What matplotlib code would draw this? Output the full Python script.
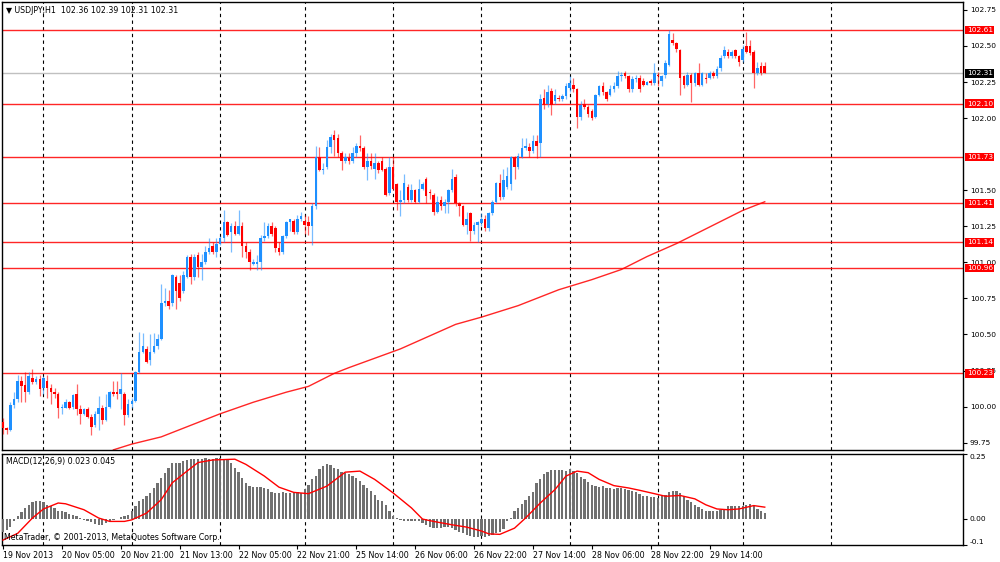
import matplotlib
matplotlib.use("Agg")
import matplotlib.pyplot as plt
from matplotlib.transforms import blended_transform_factory

# USDJPY H1 bars (19 Nov 2013 13:00 -> 29 Nov 2013)
opens = [99.89, 99.85, 99.84, 100.01, 100.05, 100.18, 100.15, 100.10, 100.20, 100.17,
         100.19, 100.13, 100.18, 100.13, 100.10, 100.09, 99.99, 99.99, 100.03, 100.00,
         100.09, 99.98, 99.95, 99.98, 99.93, 99.87, 99.95, 99.99, 99.91, 100.00,
         100.10, 100.10, 100.09, 100.09, 99.94, 100.02, 100.04, 100.24, 100.38, 100.40,
         100.32, 100.38, 100.42, 100.47, 100.72, 100.73, 100.72, 100.90, 100.86, 100.80,
         100.90, 101.04, 100.90, 101.05, 100.97, 101.00, 101.07, 101.11, 101.07, 101.13,
         101.17, 101.28, 101.21, 101.25, 101.20, 101.25, 101.11, 101.07, 100.99, 100.99,
         101.00, 101.17, 101.18, 101.25, 101.24, 101.10, 101.07, 101.18, 101.28, 101.29,
         101.21, 101.30, 101.29, 101.28, 101.25, 101.39, 101.73, 101.64, 101.66, 101.80,
         101.88, 101.86, 101.76, 101.70, 101.72, 101.70, 101.76, 101.81, 101.79, 101.66,
         101.70, 101.65, 101.69, 101.70, 101.65, 101.48, 101.66, 101.54, 101.42, 101.43,
         101.52, 101.43, 101.50, 101.42, 101.51, 101.58, 101.49, 101.47, 101.35, 101.43,
         101.39, 101.42, 101.50, 101.59, 101.41, 101.39, 101.26, 101.34, 101.22, 101.26,
         101.27, 101.30, 101.24, 101.34, 101.42, 101.55, 101.45, 101.52, 101.54, 101.73,
         101.66, 101.73, 101.79, 101.80, 101.77, 101.84, 101.83, 102.14, 102.10, 102.19,
         102.12, 102.14, 102.13, 102.15, 102.21, 102.23, 102.20, 102.01, 102.10, 102.08,
         102.05, 102.01, 102.16, 102.22, 102.18, 102.16, 102.20, 102.22, 102.29, 102.31,
         102.29, 102.20, 102.27, 102.28, 102.26, 102.23, 102.26, 102.24, 102.30, 102.26,
         102.30, 102.37, 102.54, 102.52, 102.47, 102.29, 102.23, 102.30, 102.24, 102.31,
         102.23, 102.28, 102.28, 102.31, 102.29, 102.35, 102.43, 102.46, 102.43, 102.47,
         102.43, 102.40, 102.50, 102.50, 102.46, 102.31, 102.36, 102.36]
closes = [99.85, 99.84, 100.01, 100.05, 100.18, 100.14, 100.10, 100.21, 100.17, 100.19,
          100.12, 100.20, 100.13, 100.10, 100.09, 99.99, 100.00, 100.03, 99.99, 100.08,
          99.98, 99.95, 99.98, 99.93, 99.86, 99.95, 99.99, 99.91, 100.00, 100.10,
          100.09, 100.09, 100.12, 99.94, 100.02, 100.04, 100.24, 100.38, 100.42, 100.31,
          100.38, 100.42, 100.47, 100.72, 100.73, 100.70, 100.91, 100.80, 100.75, 100.91,
          101.04, 100.90, 101.04, 100.97, 101.00, 101.07, 101.10, 101.07, 101.13, 101.17,
          101.28, 101.19, 101.25, 101.20, 101.25, 101.11, 101.07, 101.00, 101.00, 101.00,
          101.17, 101.18, 101.25, 101.20, 101.10, 101.07, 101.18, 101.28, 101.30, 101.21,
          101.30, 101.32, 101.26, 101.25, 101.39, 101.73, 101.64, 101.65, 101.80, 101.87,
          101.85, 101.76, 101.70, 101.73, 101.70, 101.76, 101.81, 101.79, 101.66, 101.70,
          101.67, 101.69, 101.64, 101.64, 101.47, 101.66, 101.51, 101.42, 101.43, 101.55,
          101.43, 101.50, 101.42, 101.51, 101.54, 101.46, 101.48, 101.35, 101.42, 101.39,
          101.42, 101.50, 101.58, 101.41, 101.39, 101.26, 101.30, 101.22, 101.26, 101.28,
          101.30, 101.24, 101.34, 101.42, 101.55, 101.45, 101.57, 101.60, 101.73, 101.66,
          101.74, 101.79, 101.81, 101.77, 101.84, 101.81, 102.13, 102.09, 102.18, 102.09,
          102.16, 102.13, 102.15, 102.22, 102.24, 102.20, 102.01, 102.09, 102.08, 102.03,
          102.00, 102.16, 102.22, 102.18, 102.13, 102.20, 102.22, 102.29, 102.30, 102.29,
          102.20, 102.27, 102.28, 102.20, 102.23, 102.25, 102.24, 102.31, 102.29, 102.29,
          102.38, 102.58, 102.52, 102.48, 102.28, 102.23, 102.30, 102.24, 102.31, 102.23,
          102.31, 102.27, 102.31, 102.29, 102.34, 102.42, 102.47, 102.43, 102.46, 102.43,
          102.39, 102.48, 102.46, 102.45, 102.31, 102.35, 102.31, 102.31]
highs = [99.92, 99.86, 100.03, 100.10, 100.22, 100.21, 100.24, 100.24, 100.26, 100.21,
         100.22, 100.21, 100.22, 100.16, 100.13, 100.10, 100.02, 100.05, 100.04, 100.09,
         100.16, 100.01, 99.99, 100.00, 99.95, 99.97, 100.07, 100.01, 100.09, 100.11,
         100.18, 100.18, 100.23, 100.10, 100.05, 100.06, 100.25, 100.52, 100.51, 100.42,
         100.50, 100.51, 100.50, 100.85, 100.82, 100.81, 100.92, 100.91, 100.91, 100.94,
         101.05, 101.06, 101.06, 101.07, 101.06, 101.11, 101.17, 101.14, 101.17, 101.18,
         101.36, 101.29, 101.27, 101.29, 101.36, 101.28, 101.14, 101.09, 101.02, 101.05,
         101.19, 101.28, 101.27, 101.28, 101.25, 101.14, 101.19, 101.29, 101.30, 101.30,
         101.33, 101.35, 101.33, 101.32, 101.41, 101.81, 101.80, 101.69, 101.85, 101.89,
         101.92, 101.89, 101.77, 101.76, 101.76, 101.80, 101.83, 101.88, 101.81, 101.76,
         101.76, 101.76, 101.70, 101.73, 101.66, 101.73, 101.73, 101.55, 101.50, 101.61,
         101.54, 101.54, 101.51, 101.58, 101.56, 101.59, 101.51, 101.48, 101.46, 101.46,
         101.44, 101.51, 101.65, 101.61, 101.42, 101.40, 101.35, 101.35, 101.28, 101.29,
         101.34, 101.33, 101.35, 101.43, 101.56, 101.61, 101.65, 101.66, 101.74, 101.74,
         101.76, 101.86, 101.86, 101.83, 101.88, 101.88, 102.17, 102.20, 102.23, 102.21,
         102.20, 102.16, 102.17, 102.24, 102.29, 102.28, 102.21, 102.12, 102.13, 102.09,
         102.06, 102.17, 102.23, 102.25, 102.19, 102.23, 102.25, 102.33, 102.32, 102.33,
         102.30, 102.29, 102.30, 102.30, 102.28, 102.26, 102.27, 102.38, 102.32, 102.30,
         102.40, 102.61, 102.59, 102.53, 102.48, 102.30, 102.32, 102.31, 102.32, 102.38,
         102.32, 102.31, 102.33, 102.33, 102.36, 102.44, 102.50, 102.48, 102.47, 102.48,
         102.44, 102.51, 102.60, 102.54, 102.47, 102.39, 102.39, 102.39]
lows = [99.81, 99.81, 99.83, 99.99, 100.03, 100.03, 100.03, 100.09, 100.16, 100.16,
        100.07, 100.09, 100.06, 100.02, 100.06, 99.92, 99.95, 99.99, 99.98, 99.98,
        99.94, 99.88, 99.94, 99.92, 99.80, 99.86, 99.84, 99.88, 99.90, 99.99,
        100.07, 100.05, 99.98, 99.87, 99.93, 99.99, 100.03, 100.23, 100.37, 100.30,
        100.29, 100.37, 100.40, 100.46, 100.70, 100.68, 100.70, 100.68, 100.73, 100.79,
        100.89, 100.85, 100.88, 100.90, 100.88, 100.99, 101.06, 101.06, 101.04, 101.12,
        101.14, 101.18, 101.07, 101.19, 101.19, 101.04, 101.03, 100.95, 100.98, 100.95,
        100.95, 101.15, 101.17, 101.18, 101.07, 101.05, 101.06, 101.17, 101.22, 101.20,
        101.20, 101.29, 101.20, 101.19, 101.12, 101.37, 101.63, 101.61, 101.65, 101.76,
        101.74, 101.73, 101.64, 101.69, 101.68, 101.69, 101.73, 101.77, 101.65, 101.57,
        101.65, 101.58, 101.62, 101.63, 101.46, 101.47, 101.50, 101.36, 101.32, 101.41,
        101.42, 101.42, 101.41, 101.41, 101.50, 101.41, 101.44, 101.33, 101.34, 101.36,
        101.34, 101.34, 101.49, 101.39, 101.32, 101.25, 101.20, 101.15, 101.20, 101.14,
        101.25, 101.22, 101.22, 101.33, 101.41, 101.43, 101.44, 101.51, 101.50, 101.58,
        101.65, 101.72, 101.78, 101.73, 101.76, 101.72, 101.73, 102.06, 102.08, 102.02,
        102.10, 102.12, 102.12, 102.13, 102.18, 102.18, 101.93, 101.99, 102.06, 102.01,
        101.99, 102.00, 102.15, 102.16, 102.12, 102.15, 102.18, 102.21, 102.26, 102.28,
        102.18, 102.18, 102.25, 102.18, 102.22, 102.23, 102.23, 102.23, 102.22, 102.22,
        102.28, 102.36, 102.51, 102.46, 102.16, 102.21, 102.22, 102.11, 102.22, 102.22,
        102.22, 102.24, 102.27, 102.28, 102.28, 102.33, 102.42, 102.42, 102.42, 102.42,
        102.36, 102.39, 102.45, 102.44, 102.21, 102.30, 102.30, 102.31]

# moving average (red line), points along the curve: bar index, value
ma_bars = [30, 35, 43, 50, 59, 68, 77, 83, 90, 94, 108, 123, 130, 140, 151, 160, 168, 175, 183, 201, 207]
ma_vals = [99.70, 99.74, 99.79, 99.86, 99.95, 100.03, 100.10, 100.14, 100.23, 100.27, 100.40,
           100.57, 100.62, 100.70, 100.81, 100.88, 100.95, 101.04, 101.13, 101.36, 101.42]

# MACD(12,26,9) main (histogram), one value per bar
macd_main = [-0.049, -0.043, -0.030, -0.010, 0.009, 0.025, 0.042, 0.054, 0.065, 0.067,
             0.067, 0.064, 0.054, 0.048, 0.042, 0.032, 0.029, 0.025, 0.018, 0.013,
             0.009, 0.003, -0.004, -0.008, -0.014, -0.019, -0.023, -0.023, -0.017, -0.014,
             -0.006, 0.000, 0.006, 0.009, 0.016, 0.029, 0.051, 0.067, 0.077, 0.089,
             0.100, 0.119, 0.139, 0.158, 0.178, 0.197, 0.214, 0.217, 0.217, 0.223,
             0.227, 0.230, 0.230, 0.232, 0.232, 0.233, 0.232, 0.232, 0.236, 0.236,
             0.232, 0.227, 0.217, 0.197, 0.180, 0.158, 0.139, 0.126, 0.123, 0.123,
             0.123, 0.119, 0.115, 0.102, 0.100, 0.100, 0.102, 0.100, 0.100, 0.102,
             0.102, 0.100, 0.115, 0.132, 0.152, 0.165, 0.191, 0.204, 0.210, 0.206,
             0.197, 0.191, 0.180, 0.175, 0.171, 0.165, 0.158, 0.145, 0.132, 0.119,
             0.106, 0.093, 0.074, 0.067, 0.054, 0.029, 0.009, 0.003, -0.004, -0.010,
             -0.010, -0.010, -0.010, -0.010, -0.017, -0.023, -0.030, -0.036, -0.036, -0.036,
             -0.030, -0.032, -0.036, -0.043, -0.049, -0.056, -0.062, -0.066, -0.069, -0.071,
             -0.066, -0.071, -0.066, -0.062, -0.056, -0.049, -0.040, -0.010, 0.003, 0.029,
             0.042, 0.058, 0.074, 0.087, 0.102, 0.139, 0.152, 0.171, 0.180, 0.187,
             0.188, 0.188, 0.188, 0.184, 0.193, 0.184, 0.175, 0.162, 0.152, 0.141,
             0.132, 0.126, 0.123, 0.126, 0.119, 0.117, 0.115, 0.119, 0.119, 0.115,
             0.110, 0.106, 0.102, 0.097, 0.089, 0.087, 0.084, 0.084, 0.080, 0.087,
             0.093, 0.102, 0.106, 0.106, 0.100, 0.087, 0.074, 0.063, 0.054, 0.045,
             0.038, 0.031, 0.029, 0.029, 0.029, 0.035, 0.038, 0.048, 0.051, 0.051,
             0.051, 0.051, 0.054, 0.058, 0.048, 0.038, 0.032, 0.023]

# MACD signal line (red), points along the curve
signal_bars = [0, 4, 8, 11, 15, 17, 22, 26, 29, 33, 35, 39, 43, 46, 50, 53, 57, 63, 66, 71,
               75, 79, 83, 88, 93, 97, 101, 106, 111, 114, 117, 122, 126, 130, 132, 135, 139,
               142, 146, 150, 153, 156, 159, 162, 166, 170, 173, 177, 180, 184, 188, 191, 194,
               197, 200, 204, 207]
signal_vals = [-0.082, -0.056, 0.003, 0.038, 0.061, 0.058, 0.035, 0.003, -0.010, -0.010,
               -0.004, 0.022, 0.074, 0.139, 0.184, 0.217, 0.227, 0.230, 0.210, 0.165,
               0.122, 0.102, 0.097, 0.126, 0.180, 0.184, 0.152, 0.100, 0.042, -0.001,
               -0.010, -0.023, -0.032, -0.047, -0.058, -0.060, -0.036, 0.003, 0.061, 0.113,
               0.165, 0.184, 0.178, 0.152, 0.128, 0.119, 0.110, 0.097, 0.087, 0.090,
               0.077, 0.054, 0.038, 0.035, 0.038, 0.051, 0.045]

# horizontal levels drawn on the chart
levels = [102.61, 102.10, 101.73, 101.41, 101.14, 100.96, 100.23]
bid = 102.31

# day separators (bar index) and time labels every 16 bars
separator_bars = [11, 35, 59, 82, 106, 130, 154, 178, 201, 225]
time_labels = ["19 Nov 2013", "20 Nov 05:00", "20 Nov 21:00", "21 Nov 13:00", "22 Nov 05:00",
               "22 Nov 21:00", "25 Nov 14:00", "26 Nov 06:00", "26 Nov 22:00", "27 Nov 14:00",
               "28 Nov 06:00", "28 Nov 22:00", "29 Nov 14:00"]
price_ticks = [99.75, 100.00, 100.25, 100.50, 100.75, 101.00, 101.25, 101.50,
               102.00, 102.25, 102.50, 102.75]
macd_ticks = [0.25, 0.00, -0.1]
macd_tick_labels = ["0.25", "0.00", "-0.1"]

BULL = "#1E90FF"
BEAR = "#FF0000"
FS = 5.7

plt.rcParams['font.family'] = ['DejaVu Sans']

W, H = 1000, 562
fig = plt.figure(figsize=(10, 5.62), dpi=100)
fig.patch.set_facecolor("white")

ax = fig.add_axes([2 / W, 1 - 450 / H, 961 / W, 448 / H])
axm = fig.add_axes([2 / W, 1 - 545 / H, 961 / W, 91 / H])

xmin, xmax = -0.27, 260.87
for a in (ax, axm):
    a.set_xlim(xmin, xmax)
    a.set_facecolor("white")
    for s in a.spines.values():
        s.set_color("black")
        s.set_linewidth(1.0)
    for b in separator_bars:
        a.axvline(b, color="black", lw=0.8, linestyle=(0, (3, 3)), zorder=1)

# ---- main price panel ----
ax.set_ylim(99.699, 102.805)
ax.axhline(bid, color="#C0C0C0", lw=1.0, zorder=1.5)
for lv in levels:
    ax.axhline(lv, color="#FF0000", lw=1.0, alpha=0.85, zorder=1.5)

n = len(closes)
idx = list(range(n))
for i in idx:
    col = BULL if closes[i] >= opens[i] else BEAR
    ax.vlines(i, lows[i], highs[i], color=col, lw=0.9, alpha=0.6, zorder=3)
    lo = min(opens[i], closes[i])
    hgt = max(abs(closes[i] - opens[i]), 0.006)
    ax.bar(i, hgt, bottom=lo, width=0.7, color=col, linewidth=0, zorder=4)

ax.plot(ma_bars, ma_vals, color="#FF0000", lw=1.0, alpha=0.85, zorder=2, clip_on=True)

ax.yaxis.tick_right()
ax.set_yticks(price_ticks)
ax.set_yticklabels(["%.2f" % t for t in price_ticks])
ax.tick_params(axis="y", direction="out", length=3, width=0.8, labelsize=FS - 0.3, pad=2)
ax.set_xticks([])

tr = blended_transform_factory(ax.transAxes, ax.transData)
for lv in levels:
    ax.text(1.004, lv, "%.2f" % lv, transform=tr, ha="left", va="center", fontsize=FS - 0.3,
            color="white", clip_on=False, zorder=10,
            bbox=dict(boxstyle="square,pad=0.18", fc="#FF0000", ec="none"))
ax.text(1.004, bid, "%.2f" % bid, transform=tr, ha="left", va="center", fontsize=FS - 0.3,
        color="white", clip_on=False, zorder=10,
        bbox=dict(boxstyle="square,pad=0.18", fc="black", ec="none"))

ax.text(0.004, 0.992, "\u25bc USDJPY,H1  %.2f %.2f %.2f %.2f" % (opens[-1], highs[-1], lows[-1], closes[-1]),
        transform=ax.transAxes, ha="left", va="top", fontsize=FS, color="black")

# ---- MACD panel ----
axm.set_ylim(-0.101, 0.249)
axm.bar(idx, macd_main, width=0.62, color="#707070", linewidth=0, zorder=3)
axm.plot(signal_bars, signal_vals, color="#FF0000", lw=1.0, zorder=4)

axm.yaxis.tick_right()
axm.set_yticks(macd_ticks)
axm.set_yticklabels(macd_tick_labels)
axm.tick_params(axis="y", direction="out", length=3, width=0.8, labelsize=FS - 0.3, pad=2)
ylabs = axm.get_yticklabels()
ylabs[0].set_va("top")
ylabs[2].set_va("bottom")

axm.set_xticks(list(range(0, 16 * len(time_labels), 16)))
axm.set_xticklabels(time_labels)
axm.tick_params(axis="x", direction="out", length=3, width=0.8, labelsize=FS, pad=1.5)
for lab in axm.get_xticklabels():
    lab.set_ha("left")

axm.text(0.004, 0.965, "MACD(12,26,9) %.3f %.3f" % (macd_main[-1], signal_vals[-1]),
         transform=axm.transAxes, ha="left", va="top", fontsize=FS, color="black")
axm.text(0.002, 0.03, "MetaTrader, \u00a9 2001-2013, MetaQuotes Software Corp.",
         transform=axm.transAxes, ha="left", va="bottom", fontsize=FS, color="black", zorder=6)

fig.savefig("out.png", dpi=100, facecolor="white")
